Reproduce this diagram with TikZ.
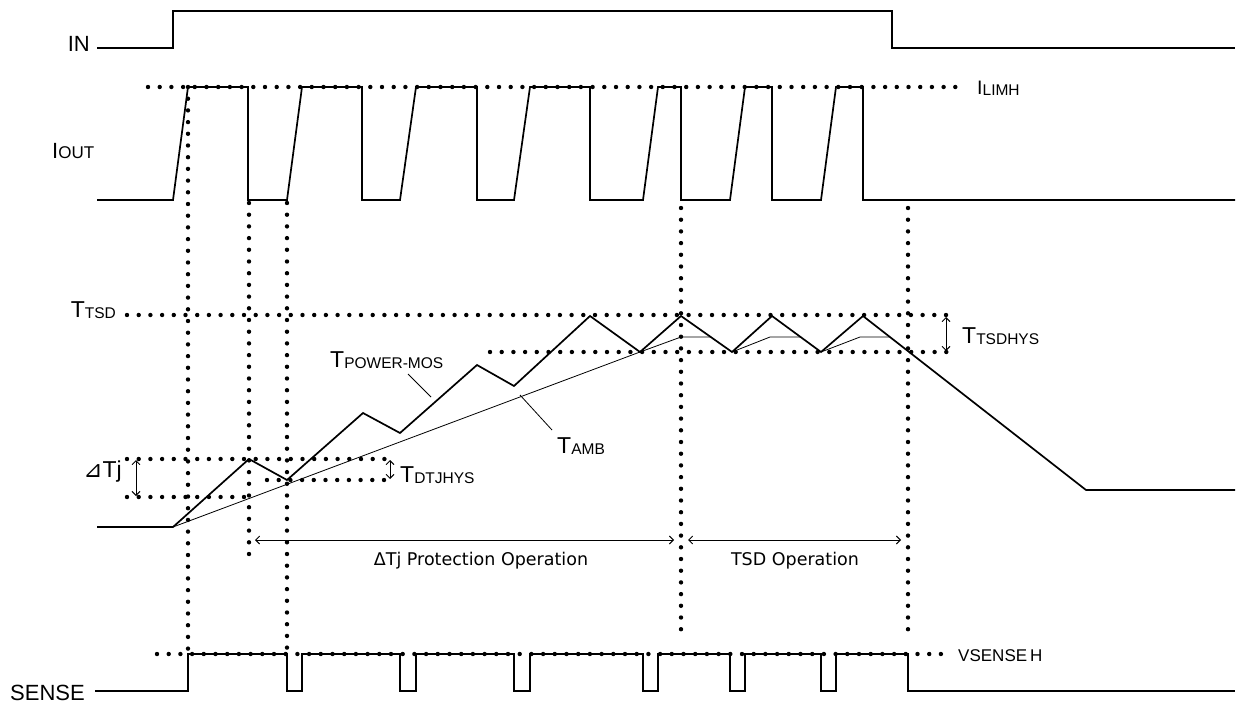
\documentclass[tikz,border=0pt]{standalone}
\usepackage{fontspec}
\setmainfont{Liberation Sans}
\newfontfamily\verd{DejaVu Sans}
\usetikzlibrary{arrows.meta}
\newcommand\bigsub[2]{{\fontsize{23}{24}\selectfont #1}{\fontsize{15.5}{16}\selectfont\raisebox{-1pt}{#2}}}
\begin{document}
\begin{tikzpicture}[x=1pt,y=-1pt,
 wave/.style={line width=1.7pt, line join=miter},
 thinwave/.style={line width=0.8pt},
 dots/.style={line width=4.4pt, line cap=round, dash pattern=on 0pt off 11.7pt},
 lbl/.style={inner sep=0pt, anchor=base west},
 lblr/.style={inner sep=0pt, anchor=base east},
 dimarrow/.style={line width=0.9pt, {Straight Barb[length=4pt,width=8pt]}-{Straight Barb[length=4pt,width=8pt]}},
 lead/.style={line width=0.8pt}]
\useasboundingbox (0,0) rectangle (1238,706);

% ---------- dotted reference lines ----------
\draw[dots] (148,87) -- (957,87);
\draw[dots] (127,315) -- (950,315);
\draw[dots] (490,352) -- (950,352);
\draw[dots] (127,459) -- (390,459);
\draw[dots] (127,497) -- (248,497);
\draw[dots] (267,480) -- (390,480);
\draw[dots] (157,654) -- (952,654);
% vertical
\draw[dots] (188,87) -- (188,655);
\draw[dots] (249,203) -- (249,555);
\draw[dots] (287,203) -- (287,655);
\draw[dots] (681,208) -- (681,640);
\draw[dots] (908,208) -- (908,640);

% ---------- IN ----------
\draw[wave] (97,48) -- (173,48) -- (173,11) -- (892,11) -- (892,48) -- (1235,48);
\node[lblr] (inlbl) at (90,52) {\fontsize{22}{24}\selectfont IN};

% ---------- IOUT ----------
\draw[wave] (97,200) -- (173,200) -- (188,87) -- (248,87) -- (248,200) -- (287,200)
  -- (302,87) -- (362,87) -- (362,200) -- (400,200) -- (416,87) -- (477,87) -- (477,200)
  -- (514,200) -- (530,87) -- (590,87) -- (590,200) -- (643,200) -- (658,87) -- (681,87)
  -- (681,200) -- (730,200) -- (745,87) -- (772,87) -- (772,200) -- (821,200) -- (836,87)
  -- (863,87) -- (863,200) -- (1235,200);
\node[lbl] (ioutlbl) at (52,158) {{\fontsize{22}{24}\selectfont I}{\fontsize{17}{18}\selectfont OUT}};
\node[lbl] (ilimh) at (977,95) {{\fontsize{19.5}{20}\selectfont I}{\fontsize{15.5}{16}\selectfont\raisebox{-1pt}{LIMH}}};

% ---------- temperatures ----------
\draw[wave] (97,527) -- (173,527) -- (249,459) -- (287,480) -- (363,413) -- (400,433)
  -- (477,365) -- (514,386) -- (590,316) -- (640,352) -- (681,316) -- (732,352)
  -- (772,316) -- (821,352) -- (863,316) -- (1086,490) -- (1235,490);
\draw[thinwave] (173,527) -- (640,352) -- (681,337) -- (711,337);
\draw[thinwave] (732,352) -- (770,337) -- (800,337);
\draw[thinwave] (821,352) -- (860,337) -- (890,337);

\node[lblr] (ttsd) at (116,317) {\bigsub{T}{TSD}};
\node[lbl] (tpm) at (330,367) {\bigsub{T}{POWER-MOS}};
\coordinate (tpmA) at (408,374);
\coordinate (tpmB) at (431,397);
\draw[lead] (tpmA) -- (tpmB);
\node[lbl] (tamb) at (557,453) {\bigsub{T}{AMB}};
\coordinate (tambA) at (520,395);
\coordinate (tambB) at (552,430);
\draw[lead] (tambA) -- (tambB);

% Delta Tj
\node[lblr] (dtj) at (122,477) {\fontsize{23}{24}\selectfont{\verd ⊿}Tj};
\coordinate (dtjA) at (136,460);
\coordinate (dtjB) at (136,496);
\draw[dimarrow] (dtjA) -- (dtjB);
\coordinate (dhA) at (390,460);
\coordinate (dhB) at (390,479);
\draw[dimarrow] (dhA) -- (dhB);
\node[lbl] (tdtj) at (400,482) {\bigsub{T}{DTJHYS}};
\coordinate (thA) at (946,317);
\coordinate (thB) at (946,351);
\draw[dimarrow] (thA) -- (thB);
\node[lbl] (ttsdhys) at (962,343) {\bigsub{T}{TSDHYS}};

% operation ranges
\coordinate (p1) at (255,540);
\coordinate (p2) at (674,540);
\coordinate (p3) at (688,540);
\coordinate (p4) at (901,540);
\draw[dimarrow] (p1) -- (p2);
\draw[dimarrow] (p3) -- (p4);
\node[inner sep=0pt] (dtjop) at (481,561) {\verd\fontsize{17.5}{19}\selectfont ΔTj Protection Operation};
\node[inner sep=0pt] (tsdop) at (795,561) {\verd\fontsize{17.5}{19}\selectfont TSD Operation};

% ---------- SENSE ----------
\draw[wave] (95,691) -- (188,691) -- (188,654) -- (287,654) -- (287,691) -- (302,691) -- (302,654)
  -- (400,654) -- (400,691) -- (416,691) -- (416,654)
  -- (514,654) -- (514,691) -- (530,691) -- (530,654)
  -- (643,654) -- (643,691) -- (658,691) -- (658,654)
  -- (730,654) -- (730,691) -- (745,691) -- (745,654)
  -- (821,654) -- (821,691) -- (836,691) -- (836,654)
  -- (908,654) -- (908,691) -- (1235,691);
\node[lbl] (sense) at (10,700) {\fontsize{22}{24}\selectfont SENSE};
\node[lbl] (vsense) at (958,661) {\fontsize{17}{18}\selectfont VSENSE\,H};
\end{tikzpicture}
\end{document}
